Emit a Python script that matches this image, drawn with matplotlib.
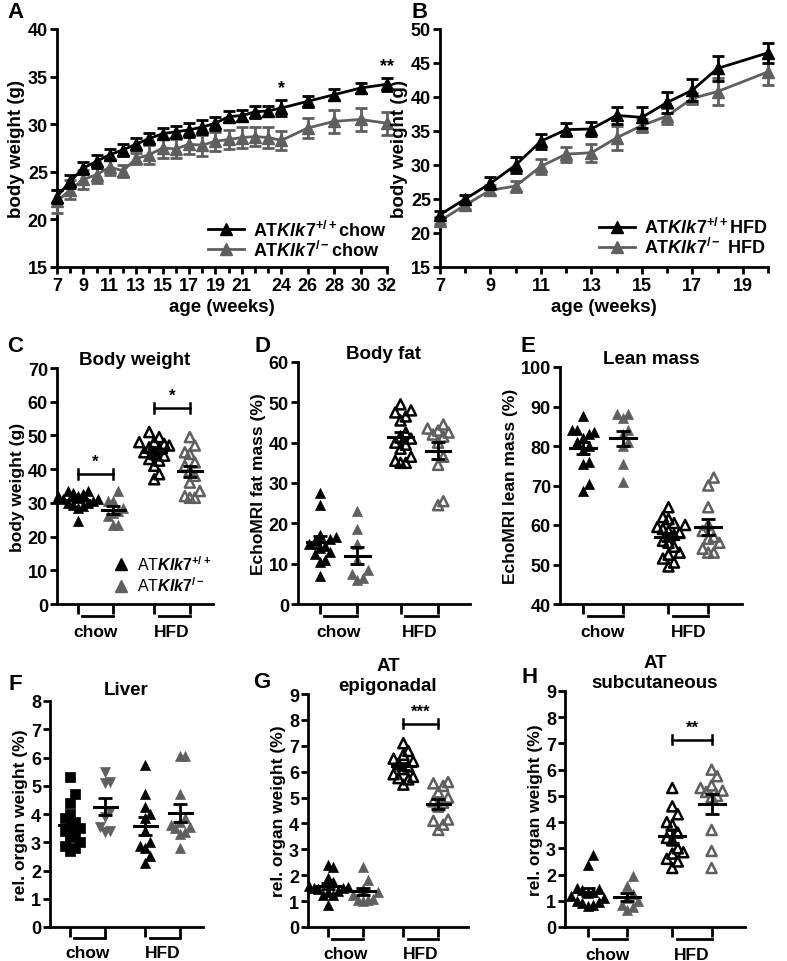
import numpy as np
import matplotlib
matplotlib.use('Agg')
import matplotlib.pyplot as plt
from matplotlib.lines import Line2D

plt.rcParams['font.family'] = ['Liberation Sans', 'DejaVu Sans']
plt.rcParams['font.weight'] = 'bold'
plt.rcParams['axes.labelweight'] = 'bold'
plt.rcParams['axes.linewidth'] = 2
plt.rcParams['xtick.major.width'] = 2
plt.rcParams['ytick.major.width'] = 2
plt.rcParams['xtick.minor.width'] = 2
plt.rcParams['xtick.major.size'] = 5
plt.rcParams['ytick.major.size'] = 5
plt.rcParams['xtick.minor.size'] = 4
plt.rcParams['xtick.major.pad'] = 2
plt.rcParams['ytick.major.pad'] = 1.5
plt.rcParams['mathtext.fontset'] = 'custom'
plt.rcParams['mathtext.rm'] = 'Liberation Sans:bold'
plt.rcParams['mathtext.it'] = 'Liberation Sans:italic:bold'
plt.rcParams['mathtext.bf'] = 'Liberation Sans:bold'

GRAY = '#5f5f5f'

# ---- A: chow time course ----
weeks_a = [7, 8, 9, 10, 11, 12, 13, 14, 15, 16, 17, 18, 19, 20, 21, 22, 23, 24, 26, 28, 30, 32]
wt_a = [22.4, 24.0, 25.4, 26.1, 26.8, 27.3, 27.9, 28.5, 29.0, 29.2, 29.4, 29.7, 30.1, 30.8,
        30.9, 31.3, 31.4, 31.7, 32.4, 33.1, 33.8, 34.2]
wt_a_sem = [0.7, 0.7, 0.6, 0.7, 0.6, 0.6, 0.6, 0.6, 0.6, 0.6, 0.7, 0.7, 0.7, 0.6,
            0.6, 0.6, 0.5, 0.8, 0.6, 0.6, 0.5, 0.7]
ko_a = [21.9, 23.1, 24.2, 24.7, 25.5, 25.1, 26.4, 26.8, 27.5, 27.4, 27.9, 27.8, 28.2, 28.4,
        28.6, 28.7, 28.6, 28.3, 29.6, 30.3, 30.5, 30.1]
ko_a_sem = [1.2, 1.0, 1.0, 0.9, 0.8, 0.6, 0.6, 1.0, 1.0, 1.0, 1.0, 1.1, 1.0, 1.0,
            1.1, 1.0, 1.1, 1.0, 1.1, 1.2, 1.2, 1.2]
xt_a = [7, 9, 11, 13, 15, 17, 19, 21, 24, 26, 28, 30, 32]

# ---- B: HFD time course ----
weeks_b = [7, 8, 9, 10, 11, 12, 13, 14, 15, 16, 17, 18, 20]
wt_b = [22.7, 25.0, 27.3, 30.0, 33.5, 35.2, 35.3, 37.3, 37.0, 39.2, 41.0, 44.2, 46.5]
wt_b_sem = [0.5, 0.6, 0.9, 1.2, 1.1, 1.0, 1.0, 1.2, 1.5, 1.6, 1.6, 1.8, 1.5]
ko_b = [21.8, 24.1, 26.3, 26.9, 29.8, 31.6, 31.8, 34.0, 35.8, 37.2, 39.8, 40.8, 43.7]
ko_b_sem = [0.5, 0.5, 0.7, 0.8, 1.1, 1.1, 1.3, 1.8, 1.0, 1.2, 0.8, 2.0, 2.0]

# ---- C: body weight ----
c_chow_wt = [24.5, 28.5, 29.0, 29.5, 30.0, 30.0, 30.5, 31.0, 31.0, 31.5, 32.0, 32.0, 32.5, 33.0, 33.5, 33.5]
c_chow_ko = [33.5, 30.5, 30.5, 28.5, 27.5, 27.0, 26.0, 23.5, 23.5]
c_hfd_wt = [51.0, 49.5, 48.0, 48.0, 47.5, 47.0, 46.5, 46.0, 45.0, 44.5, 44.0, 43.0, 42.5, 41.0, 38.5, 37.0]
c_hfd_ko = [49.5, 47.0, 45.0, 44.5, 42.0, 41.0, 39.5, 38.0, 36.0, 33.5, 32.0, 31.5, 31.5]

# ---- D: body fat ----
d_chow_wt = [27.5, 24.5, 17.0, 16.5, 16.0, 15.5, 15.0, 14.5, 14.0, 13.0, 12.5, 11.0, 10.5, 7.0]
d_chow_ko = [23.0, 18.5, 15.0, 11.0, 8.5, 7.5, 6.5, 6.0]
d_hfd_wt = [49.5, 48.0, 47.5, 46.5, 45.5, 42.5, 41.5, 41.0, 40.0, 39.5, 38.5, 36.5, 35.5, 35.0, 35.0]
d_hfd_ko = [44.5, 43.5, 43.0, 42.5, 42.0, 41.5, 40.0, 36.5, 34.5, 25.5, 24.5]

# ---- E: lean mass ----
e_chow_wt = [87.5, 84.0, 84.0, 83.5, 83.0, 82.0, 81.0, 80.0, 79.0, 76.0, 75.5, 70.5, 68.5]
e_chow_ko = [88.0, 88.0, 87.0, 84.0, 83.0, 81.0, 80.0, 75.5, 71.0]
e_hfd_wt = [64.5, 62.0, 61.5, 60.5, 60.0, 59.5, 59.0, 58.5, 58.0, 57.5, 56.0, 55.5, 54.5,
            53.0, 52.5, 51.5, 50.5, 49.5]
e_hfd_ko = [72.0, 70.0, 64.5, 60.0, 58.5, 57.0, 56.5, 55.5, 54.0, 53.0, 53.0]

# ---- F: liver ----
f_chow_wt = [5.3, 4.7, 4.4, 4.0, 3.85, 3.7, 3.6, 3.5, 3.4, 3.3, 3.2, 3.0, 2.85, 2.8, 2.7]
f_chow_ko = [5.5, 5.15, 5.1, 4.1, 3.9, 3.55, 3.4, 3.35]
f_hfd_wt = [5.75, 4.7, 4.25, 4.0, 3.85, 3.4, 3.0, 2.85, 2.8, 2.5, 2.25]
f_hfd_ko = [6.05, 6.05, 4.7, 3.85, 3.7, 3.6, 3.55, 3.5, 3.35, 3.3, 2.8]

# ---- G: AT epigonadal ----
g_chow_wt = [2.4, 2.3, 1.9, 1.75, 1.6, 1.55, 1.5, 1.5, 1.45, 1.4, 1.35, 1.25, 1.25, 0.85]
g_chow_ko = [2.3, 1.8, 1.45, 1.35, 1.25, 1.1, 1.05, 1.05, 1.0]
g_hfd_wt = [7.1, 6.8, 6.65, 6.5, 6.4, 6.3, 6.2, 6.1, 5.9, 5.8, 5.75, 5.7, 5.5]
g_hfd_ko = [5.6, 5.55, 5.45, 5.2, 5.0, 4.85, 4.8, 4.65, 4.15, 4.1, 3.95, 3.75]

# ---- H: AT subcutaneous ----
h_chow_wt = [2.75, 2.35, 1.5, 1.45, 1.4, 1.35, 1.3, 1.2, 1.1, 1.0, 0.95, 0.9, 0.85, 0.8]
h_chow_ko = [1.95, 1.55, 1.25, 1.1, 1.0, 0.85, 0.75, 0.65]
h_hfd_wt = [5.3, 4.6, 4.3, 4.0, 3.9, 3.6, 3.4, 3.3, 3.0, 2.85, 2.8, 2.6, 2.5, 2.25]
h_hfd_ko = [6.0, 5.75, 5.4, 5.3, 5.2, 5.15, 5.0, 4.95, 3.7, 2.9, 2.25]

lab_wt = r'AT$\mathit{Klk7}^{+/+}$'
lab_ko = r'AT$\mathit{Klk7}^{/-}$'

W, H = 787, 962
fig = plt.figure(figsize=(W / 100, H / 100), dpi=100)


def add_ax(l, t, r, b):
    ax = fig.add_axes([l / W, 1 - b / H, (r - l) / W, (b - t) / H])
    ax.spines['top'].set_visible(False)
    ax.spines['right'].set_visible(False)
    ax.tick_params(labelsize=13)
    return ax


def letter(x, y, s):
    fig.text(x / W, 1 - y / H, s, fontsize=16, fontweight='bold', ha='center', va='center')


def swarm(vals, center, dx, dy):
    vals = np.asarray(vals, dtype=float)
    xs = np.zeros(len(vals))
    placed = []
    for i in np.argsort(vals):
        v = vals[i]
        for k in [0, 1, -1, 2, -2, 3, -3, 4, -4]:
            x = center + k * dx
            if all(abs(x - px) > dx * 0.9 or abs(v - pv) > dy for px, pv in placed):
                break
        placed.append((x, v))
        xs[i] = x
    return xs


pos = [1, 2, 3.15, 4.15]


def scatter_panel(ax, groups, styles, ylim, ystep, ylabel, sig=None, xmax=5.0):
    dy = (ylim[1] - ylim[0]) * 0.045
    for p, vals, (mk, fc, ec) in zip(pos, groups, styles):
        xs = swarm(vals, p, 0.14, dy)
        ax.scatter(xs, vals, marker=mk, s=52, facecolors=fc, edgecolors=ec,
                   linewidths=1.8 if fc == 'none' else 0.5, zorder=3, clip_on=False)
        m = np.mean(vals)
        se = np.std(vals, ddof=1) / np.sqrt(len(vals))
        ax.plot([p - 0.33, p + 0.33], [m, m], color='black', lw=2.2, zorder=4)
        ax.errorbar(p, m, yerr=se, color='black', lw=2, capsize=5, capthick=2, zorder=4)
    ax.set_xlim(0.42, xmax)
    ax.set_ylim(*ylim)
    ax.set_yticks(np.arange(ylim[0], ylim[1] + 0.01, ystep))
    ax.set_xticks(pos)
    ax.set_xticklabels([])
    ax.tick_params(axis='x', length=7)
    ax.set_ylabel(ylabel, fontsize=12.5, labelpad=2)
    # group brackets under the axis
    tr = ax.get_xaxis_transform()
    for (a, b), name in [((pos[0], pos[1]), 'chow'), ((pos[2], pos[3]), 'HFD')]:
        ax.plot([a + 0.12, b], [-0.05, -0.05], color='black', lw=2, transform=tr, clip_on=False)
        ax.text((a + b) / 2, -0.115, name, transform=tr, ha='center', va='center', fontsize=12.5)
    if sig is not None:
        for (a, b), yv, star in sig:
            h = (ylim[1] - ylim[0]) * 0.02
            ax.plot([a, b], [yv, yv], color='black', lw=1.8)
            ax.plot([a, a], [yv - h, yv + h], color='black', lw=1.8)
            ax.plot([b, b], [yv - h, yv + h], color='black', lw=1.8)
            ax.text((a + b) / 2, yv + h * 1.0, star, ha='center', va='bottom', fontsize=12)


# ---------- A ----------
axA = add_ax(57, 30, 387, 268)
axA.errorbar(weeks_a, wt_a, yerr=wt_a_sem, color='black', marker='^', ms=8.5, lw=2,
             capsize=4, capthick=2, elinewidth=2, clip_on=False, zorder=4)
axA.errorbar(weeks_a, ko_a, yerr=ko_a_sem, color=GRAY, marker='^', ms=8.5, lw=2,
             capsize=4, capthick=2, elinewidth=2, clip_on=False, zorder=3)
axA.set_xlim(7, 32)
axA.set_ylim(15, 40)
axA.set_xticks(xt_a)
axA.set_xticks([w for w in weeks_a if w not in xt_a], minor=True)
axA.set_yticks(range(15, 41, 5))
axA.set_xlabel('age (weeks)', fontsize=13.5, labelpad=3)
axA.set_ylabel('body weight (g)', fontsize=13.5, labelpad=2)
axA.text(24, 33.0, '*', ha='center', va='bottom', fontsize=13)
axA.text(32, 35.3, '**', ha='center', va='bottom', fontsize=13)
hA = [Line2D([], [], color='black', marker='^', ms=8.5, lw=2),
      Line2D([], [], color=GRAY, marker='^', ms=8.5, lw=2)]
axA.legend(hA, [lab_wt + 'chow', lab_ko + 'chow'], loc='lower right', frameon=False,
           fontsize=13, handlelength=2.0, handletextpad=0.5, labelspacing=0.0,
           borderaxespad=0.0, bbox_to_anchor=(1.02, 0.0))
letter(15, 13, 'A')

# ---------- B ----------
axB = add_ax(440, 30, 768, 268)
axB.errorbar(weeks_b, wt_b, yerr=wt_b_sem, color='black', marker='^', ms=8.5, lw=2,
             capsize=4, capthick=2, elinewidth=2, clip_on=False, zorder=4)
axB.errorbar(weeks_b, ko_b, yerr=ko_b_sem, color=GRAY, marker='^', ms=8.5, lw=2,
             capsize=4, capthick=2, elinewidth=2, clip_on=False, zorder=3)
axB.set_xlim(7, 20)
axB.set_ylim(15, 50)
axB.set_xticks(range(7, 20, 2))
axB.set_xticks(range(8, 21, 2), minor=True)
axB.set_yticks(range(15, 51, 5))
axB.set_xlabel('age (weeks)', fontsize=13.5, labelpad=3)
axB.set_ylabel('body weight (g)', fontsize=13.5, labelpad=2)
axB.legend(hA, [lab_wt + 'HFD', lab_ko + ' HFD'], loc='lower right', frameon=False,
           fontsize=13, handlelength=2.0, handletextpad=0.5, labelspacing=0.0,
           borderaxespad=0.0, bbox_to_anchor=(1.02, 0.01))
letter(420, 13, 'B')

filled = [('^', 'black', 'black'), ('^', GRAY, GRAY), ('^', 'none', 'black'), ('^', 'none', GRAY)]

# ---------- C ----------
axC = add_ax(57, 369, 213, 605)
scatter_panel(axC, [c_chow_wt, c_chow_ko, c_hfd_wt, c_hfd_ko], filled, (0, 70), 10,
              'body weight (g)', xmax=4.8,
              sig=[((pos[0], pos[1]), 38.6, '*'), ((pos[2], pos[3]), 58.2, '*')])
axC.set_title('Body weight', fontsize=13.5, fontweight='bold', pad=1)
hC = [Line2D([], [], ls='none', color='black', marker='^', ms=8),
      Line2D([], [], ls='none', color=GRAY, marker='^', ms=8)]
legC = axC.legend(hC, [lab_wt, lab_ko], loc='lower right', frameon=False, fontsize=11.5,
                  handlelength=1.0, handletextpad=0.5, labelspacing=0.2,
                  borderaxespad=0.2, bbox_to_anchor=(1.05, 0.0))
for t in legC.get_texts():
    t.set_fontweight('normal')
letter(15, 347, 'C')

# ---------- D ----------
axD = add_ax(298, 363, 470, 605)
scatter_panel(axD, [d_chow_wt, d_chow_ko, d_hfd_wt, d_hfd_ko], filled, (0, 60), 10,
              'EchoMRI fat mass (%)')
axD.set_title('Body fat', fontsize=13.5, fontweight='bold', pad=3)
letter(263, 347, 'D')

# ---------- E ----------
axE = add_ax(560, 368, 742, 605)
scatter_panel(axE, [e_chow_wt, e_chow_ko, e_hfd_wt, e_hfd_ko], filled, (40, 100), 10,
              'EchoMRI lean mass (%)')
axE.set_title('Lean mass', fontsize=13.5, fontweight='bold', pad=1)
letter(528, 347, 'E')

# ---------- F ----------
axF = add_ax(50, 702, 203, 928)
liver = [('s', 'black', 'black'), ('v', GRAY, GRAY), ('^', 'black', 'black'), ('^', GRAY, GRAY)]
scatter_panel(axF, [f_chow_wt, f_chow_ko, f_hfd_wt, f_hfd_ko], liver, (0, 8), 1,
              'rel. organ weight (%)', xmax=4.8)
axF.set_title('Liver', fontsize=13.5, fontweight='bold', pad=5)
letter(15, 685, 'F')

# ---------- G ----------
axG = add_ax(308, 695, 468, 928)
scatter_panel(axG, [g_chow_wt, g_chow_ko, g_hfd_wt, g_hfd_ko], filled, (0, 9), 1,
              'rel. organ weight (%)', sig=[((pos[2], pos[3]), 7.85, '***')])
axG.set_title('AT\nepigonadal', fontsize=13.5, fontweight='bold', pad=1, linespacing=1.2)
letter(262, 683, 'G')

# ---------- H ----------
axH = add_ax(565, 692, 745, 928)
scatter_panel(axH, [h_chow_wt, h_chow_ko, h_hfd_wt, h_hfd_ko], filled, (0, 9), 1,
              'rel. organ weight (%)', sig=[((pos[2], pos[3]), 7.15, '**')])
axH.set_title('AT\nsubcutaneous', fontsize=13.5, fontweight='bold', pad=1, linespacing=1.2)
letter(530, 678, 'H')

fig.savefig('out.png', dpi=100)
